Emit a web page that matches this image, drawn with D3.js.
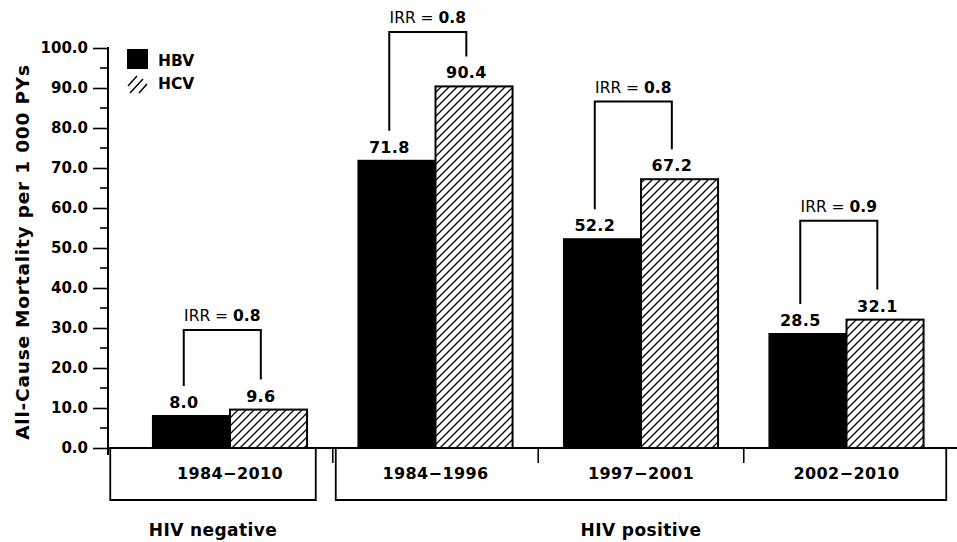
<!DOCTYPE html>
<html><head><meta charset="utf-8">
<script src="https://cdn.jsdelivr.net/npm/d3@7/dist/d3.min.js"></script>
<style>body{margin:0;background:#fff}svg{display:block}text{font-family:"DejaVu Sans",Verdana,sans-serif}</style>
</head><body>
<svg id="c" width="957" height="542"></svg>
<script>
const categories = ["1984\u22122010","1984\u22121996","1997\u22122001","2002\u22122010"];
const series = ["HBV","HCV"];
const hbv = [8.0, 71.8, 52.2, 28.5];
const hcv = [9.6, 90.4, 67.2, 32.1];
const irr = ["0.8","0.8","0.8","0.9"];
const bracketLevel = [29.5, 104, 86.6, 56.8];
const groupNames = ["HIV negative","HIV positive"];
const groupStart = [0, 1];
const groupEnd = [0, 3];
const yTicks = [0,10,20,30,40,50,60,70,80,90,100];
const yTitle = "All-Cause Mortality per 1\u00a0000 PYs";

const svg = d3.select("#c");
const y = d3.scaleLinear().domain([0,100]).range([448,48]);
const x = d3.scaleBand().domain(categories).range([127.25,949.25]).paddingInner(0.25).paddingOuter(0.125);
const xs = d3.scaleBand().domain(series).range([0,x.bandwidth()]);
const axisX = 108, base = y(0);

// defs hatch
const defs = svg.append("defs");
const pat = defs.append("pattern").attr("id","hatch").attr("patternUnits","userSpaceOnUse")
  .attr("width",8).attr("height",8);
pat.append("rect").attr("width",8).attr("height",8).attr("fill","#fff");
pat.append("path").attr("d","M0,8 L8,0 M-2,2 L2,-2 M6,10 L10,6").attr("stroke","#000").attr("stroke-width",1.3);

// y axis
const ya = svg.append("g").attr("transform",`translate(${axisX},0)`)
  .call(d3.axisLeft(y).tickValues(yTicks).tickFormat(d3.format(".1f")).tickSize(15).tickPadding(5));
ya.select(".domain").remove();
ya.selectAll(".tick line").attr("stroke","#000").attr("stroke-width",1.6);
ya.selectAll(".tick text").attr("font-size",15).attr("font-weight","bold").attr("fill","#000")
  .attr("font-family","DejaVu Sans");
const minor = d3.range(5,100,10);
svg.append("g").selectAll("line").data(minor).join("line")
  .attr("x1",axisX-8).attr("x2",axisX).attr("y1",d=>y(d)).attr("y2",d=>y(d))
  .attr("stroke","#000").attr("stroke-width",1.6);
svg.append("line").attr("x1",axisX).attr("x2",axisX).attr("y1",y(100)-1).attr("y2",base+7)
  .attr("stroke","#000").attr("stroke-width",2);

// y title
svg.append("text").attr("transform",`translate(29,${(y(0)+y(100))/2+4}) rotate(-90)`)
  .attr("text-anchor","middle").attr("font-size",18.5).attr("letter-spacing",0.8)
  .attr("font-weight","bold").text(yTitle);

// bars
const vals = [hbv, hcv];
const g = svg.append("g");
categories.forEach((c,i)=>{
  series.forEach((s,j)=>{
    const v = vals[j][i];
    g.append("rect").attr("x",x(c)+xs(s)).attr("y",y(v)).attr("width",xs.bandwidth())
      .attr("height",base-y(v)).attr("fill", j===0?"#000":"url(#hatch)")
      .attr("stroke","#000").attr("stroke-width",2);
  });
});

// x axis line
svg.append("line").attr("x1",axisX).attr("x2",957).attr("y1",base).attr("y2",base)
  .attr("stroke","#000").attr("stroke-width",2);

// value labels and brackets
categories.forEach((c,i)=>{
  const legs = series.map(s=>x(c)+xs(s)+xs.bandwidth()*0.4);
  const tops = [y(hbv[i]), y(hcv[i])];
  const by = y(bracketLevel[i]);
  tops.forEach((t,j)=>{
    svg.append("text").attr("x",legs[j]).attr("y",t-8).attr("text-anchor","middle")
      .attr("font-size",16).attr("font-weight","bold").attr("letter-spacing",0.3)
      .text(d3.format(".1f")(vals[j][i]));
  });
  svg.append("path").attr("d",`M${legs[0]},${tops[0]-30}V${by}H${legs[1]}V${tops[1]-30}`)
    .attr("fill","none").attr("stroke","#000").attr("stroke-width",2);
  const t = svg.append("text").attr("x",(legs[0]+legs[1])/2).attr("y",by-9).attr("text-anchor","middle")
    .attr("font-size",15.5);
  t.append("tspan").text("IRR = ");
  t.append("tspan").attr("font-weight","bold").text(irr[i]);
});

// category separators
const step = x.step();
const bounds = categories.slice(1).map(c=>x(c) - (step-x.bandwidth())/2);
svg.append("g").selectAll("line").data(bounds).join("line")
  .attr("x1",d=>d).attr("x2",d=>d).attr("y1",base).attr("y2",base+15)
  .attr("stroke","#000").attr("stroke-width",1.6);

// category labels
svg.append("g").selectAll("text").data(categories).join("text")
  .attr("x",c=>x(c)+x.bandwidth()/2).attr("y",479).attr("text-anchor","middle")
  .attr("font-size",16).attr("letter-spacing",0.4).attr("font-weight","bold").text(c=>c);

// group boxes
const r0 = x.range()[0], r1 = x.range()[1];
groupNames.forEach((n,k)=>{
  const left = groupStart[k]===0 ? r0-17 : bounds[groupStart[k]-1]+3;
  const right = groupEnd[k]===categories.length-1 ? r1-3 : bounds[groupEnd[k]]-17;
  svg.append("path").attr("d",`M${left},${base}V500H${right}V${base}`)
    .attr("fill","none").attr("stroke","#000").attr("stroke-width",1.8);
  svg.append("text").attr("x",(left+right)/2).attr("y",536).attr("text-anchor","middle")
    .attr("font-size",17).attr("letter-spacing",0.4).attr("font-weight","bold").text(n);
});

// legend
const lg = svg.append("g");
lg.append("rect").attr("x",127).attr("y",49).attr("width",21).attr("height",20).attr("fill","#000");
lg.append("text").attr("x",158).attr("y",66).attr("font-size",15.5).attr("font-weight","bold").text(series[0]);
lg.append("path").attr("d","M128,86 L137,76 M130,93 L143,79 M139,93 L147,84")
  .attr("stroke","#000").attr("stroke-width",1.5);
lg.append("text").attr("x",158).attr("y",89).attr("font-size",15.5).attr("font-weight","bold").text(series[1]);
</script>
</body></html>
